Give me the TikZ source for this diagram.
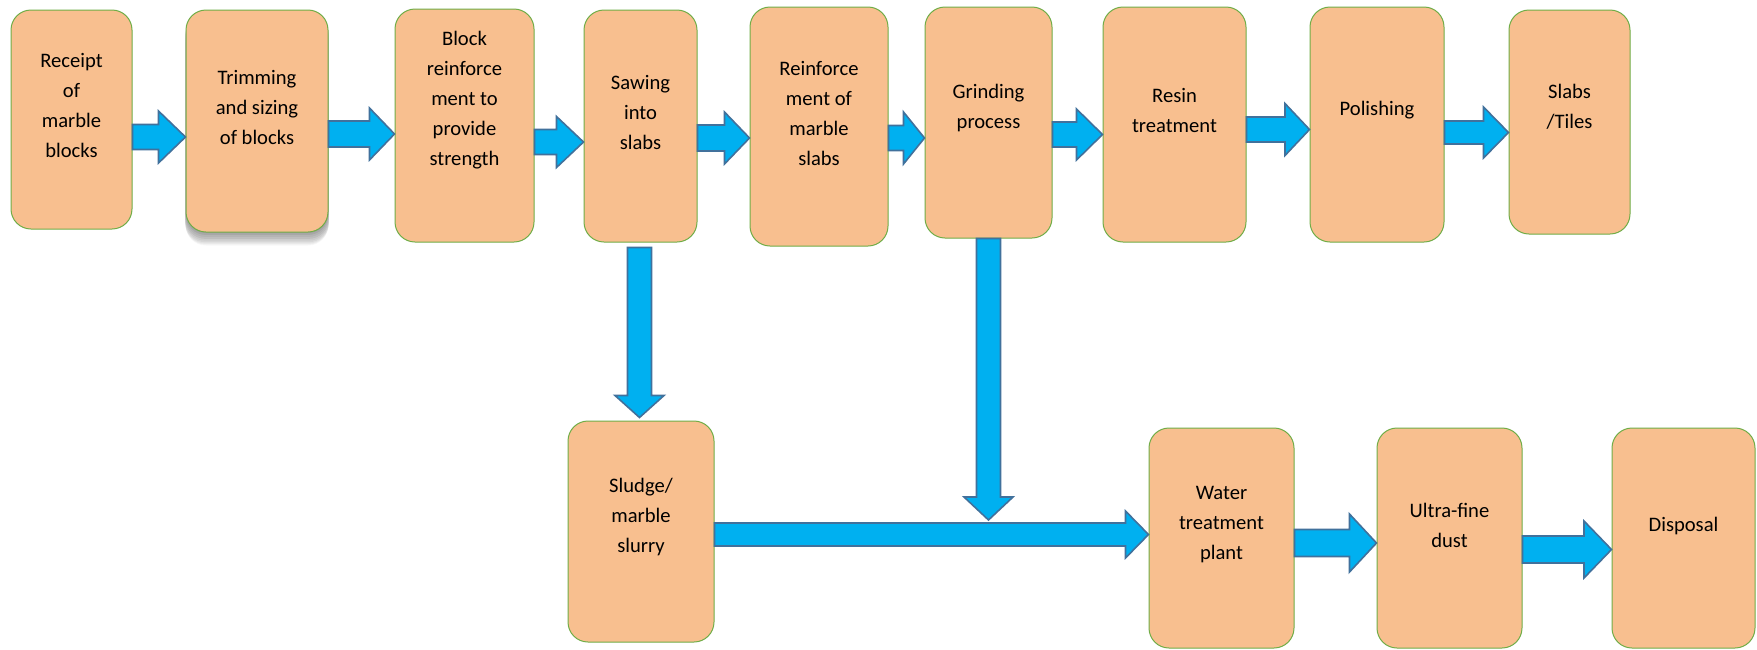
\documentclass[tikz,border=0pt]{standalone}
\usepackage{fontspec}
\setmainfont{Carlito}
\usetikzlibrary{calc,shadows}
\definecolor{boxfill}{HTML}{F8BF8F}
\definecolor{boxline}{HTML}{70AD47}
\definecolor{arrfill}{HTML}{00B0F0}
\definecolor{arrline}{HTML}{41719C}
% #1 from node, #2 to node, #3 y centre, #4 head length, #5 shaft half width, #6 head half width
\newcommand\harr[6]{%
  \draw[barrow] ($(#1.east |- 0,#3)+(0,-#5)$) -- ($(#2.west |- 0,#3)+(-#4,-#5)$)
    -- ($(#2.west |- 0,#3)+(-#4,-#6)$) -- (#2.west |- 0,#3)
    -- ($(#2.west |- 0,#3)+(-#4,#6)$) -- ($(#2.west |- 0,#3)+(-#4,#5)$)
    -- ($(#1.east |- 0,#3)+(0,#5)$) -- cycle;}
% #1 start coord, #2 tip coord, #3 head length, #4 shaft half, #5 head half
\newcommand\varr[5]{%
  \draw[barrow] ($(#1)+(-#4,0)$) -- ($(#2)+(-#4,-#3)$) -- ($(#2)+(-#5,-#3)$) -- (#2)
    -- ($(#2)+(#5,-#3)$) -- ($(#2)+(#4,-#3)$) -- ($(#1)+(#4,0)$) -- cycle;}
\begin{document}
\begin{tikzpicture}[x=1pt,y=-1pt,
  box/.style={draw=boxline, line width=1pt, fill=boxfill, rounded corners=20pt, inner sep=0pt},
  txt/.style={align=center, inner sep=0pt, font=\fontsize{20.6}{30}\selectfont},
  barrow/.style={fill=arrfill, draw=arrline, line width=1.6pt, line join=miter},
  softshadow/.style={
    general shadow={shadow yshift=-1pt, shadow scale=1.000, fill=black, opacity=0.06},
    general shadow={shadow yshift=-2.5pt, shadow scale=1.004, fill=black, opacity=0.06},
    general shadow={shadow yshift=-4pt, shadow scale=1.008, fill=black, opacity=0.06},
    general shadow={shadow yshift=-5.5pt, shadow scale=1.012, fill=black, opacity=0.06},
    general shadow={shadow yshift=-7pt, shadow scale=1.014, fill=black, opacity=0.05},
    general shadow={shadow yshift=-8.5pt, shadow scale=1.014, fill=black, opacity=0.05},
    general shadow={shadow yshift=-10pt, shadow scale=1.012, fill=black, opacity=0.04},
    general shadow={shadow yshift=-11.5pt, shadow scale=1.008, fill=black, opacity=0.04},
    general shadow={shadow yshift=-13pt, shadow scale=1.004, fill=black, opacity=0.03}}]
\useasboundingbox (0,0) rectangle (1757,649);
\fill[white] (0,0) rectangle (1757,649);

% top row boxes
\node[box, minimum width=121pt, minimum height=219pt] (b1) at (71.5,119.5) {};
\node[box, softshadow, minimum width=142pt, minimum height=222pt] (b2) at (257,121) {};
\node[box, minimum width=139pt, minimum height=233pt] (b3) at (464.5,125.5) {};
\node[box, minimum width=113pt, minimum height=232pt] (b4) at (640.5,126) {};
\node[box, minimum width=138pt, minimum height=239pt] (b5) at (819,126.5) {};
\node[box, minimum width=127pt, minimum height=231pt] (b6) at (988.5,122.5) {};
\node[box, minimum width=143pt, minimum height=235pt] (b7) at (1174.5,124.5) {};
\node[box, minimum width=134pt, minimum height=235pt] (b8) at (1377,124.5) {};
\node[box, minimum width=121pt, minimum height=224pt] (b9) at (1569.5,122) {};
% bottom boxes
\node[box, minimum width=146pt, minimum height=221pt] (b10) at (641,531.5) {};
\node[box, minimum width=145pt, minimum height=220pt] (b11) at (1221.5,538) {};
\node[box, minimum width=145pt, minimum height=220pt] (b12) at (1449.5,538) {};
\node[box, minimum width=143pt, minimum height=220pt] (b13) at (1683.5,538) {};

% texts
\node[txt] (t1) at (71.5,105) {Receipt\\of\\marble\\blocks};
\node[txt] (t2) at (257,107) {Trimming\\and sizing\\of blocks};
\node[txt] (t3) at (464.5,100) {Block\\reinforce\\ment to\\provide\\strength};
\node[txt] (t4) at (640.5,112) {Sawing\\into\\slabs};
\node[txt] (t5) at (819,113) {Reinforce\\ment of\\marble\\slabs};
\node[txt] (t6) at (988.5,108) {Grinding\\process};
\node[txt] (t7) at (1174.5,110) {Resin\\treatment};
\node[txt] (t8) at (1377,110) {Polishing};
\node[txt] (t9) at (1569.5,107) {Slabs\\/Tiles};
\node[txt] (t10) at (641,517) {Sludge/\\marble\\slurry};
\node[txt] (t11) at (1221.5,525) {Water\\treatment\\plant};
\node[txt] (t12) at (1449.5,525) {Ultra-fine\\dust};
\node[txt] (t13) at (1683.5,526) {Disposal};

% horizontal block arrows
\harr{b1}{b2}{137}{27}{12.5}{26}
\harr{b2}{b3}{134}{25}{13}{26}
\harr{b3}{b4}{142}{27}{12.5}{25.5}
\harr{b4}{b5}{138}{25}{13}{26}
\harr{b5}{b6}{138}{21}{12.5}{26}
\harr{b6}{b7}{134.5}{26}{12.5}{25.5}
\harr{b7}{b8}{129.5}{24.5}{12.5}{26}
\harr{b8}{b9}{132.5}{25}{11.5}{25.5}
\harr{b10}{b11}{534.5}{23}{11.5}{23.5}
\harr{b11}{b12}{543}{27}{13.5}{29}
\harr{b12}{b13}{549.5}{27.5}{13.5}{28.5}

% vertical block arrows
\coordinate (v1s) at ($(b4.south)+(-1,5)$);
\coordinate (v1t) at ($(b10.north)+(-1.5,-3)$);
\varr{v1s}{v1t}{22}{12}{24.5}
\coordinate (v2s) at (b6.south);
\coordinate (v2t) at (b6.south |- 0,520);
\varr{v2s}{v2t}{23}{12}{24.5}
\end{tikzpicture}
\end{document}
